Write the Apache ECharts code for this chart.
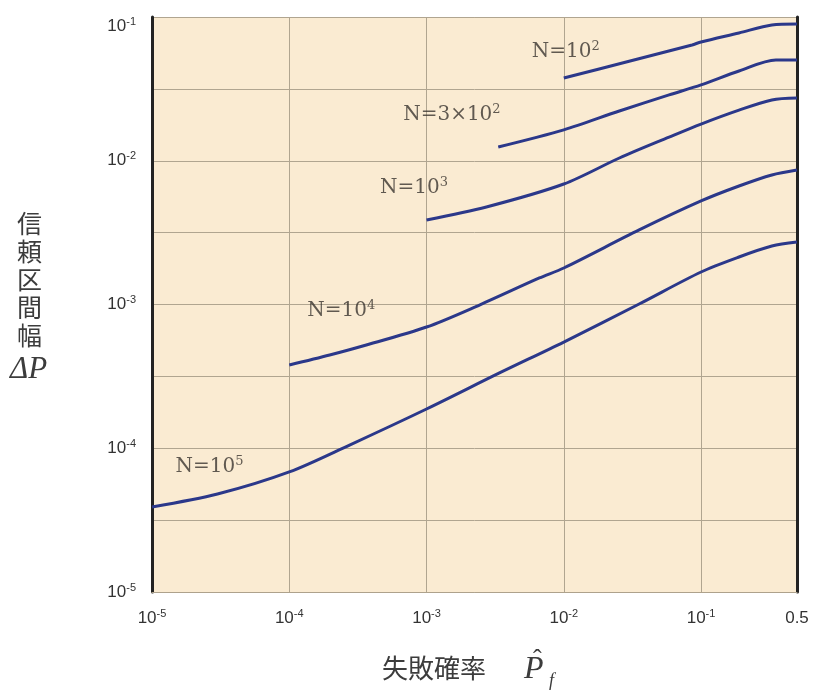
<!DOCTYPE html>
<html><head><meta charset="utf-8">
<script src="https://cdn.jsdelivr.net/npm/echarts@6/dist/echarts.min.js"></script>
<style>html,body{margin:0;padding:0;background:#fff}#c{width:813px;height:691px}</style>
</head><body><div id="c"></div>
<script>
// ---- data ----
const pf_N1e2 = [0.01, 0.0285, 0.086, 0.1, 0.189, 0.328, 0.5];
const dp_N1e2 = [0.0376, 0.0486, 0.0639, 0.067, 0.0774, 0.088, 0.0894];

const pf_N3e2 = [0.00333, 0.01, 0.0254, 0.0585, 0.1, 0.189, 0.351, 0.5];
const dp_N3e2 = [0.01246, 0.0164, 0.0222, 0.0287, 0.0337, 0.0421, 0.0502, 0.0502];

const pf_N1e3 = [0.001, 0.00273, 0.01, 0.0254, 0.0585, 0.1, 0.189, 0.328, 0.5];
const dp_N1e3 = [0.00387, 0.00477, 0.00689, 0.01045, 0.0146, 0.018, 0.0225, 0.0265, 0.0273];

const pf_N1e4 = [1e-4, 1.97e-4, 3.43e-4, 1e-3, 2.43e-3, 6.64e-3, 1e-2, 3.54e-2, 0.1, 0.189, 0.328, 0.5];
const dp_N1e4 = [3.79e-4, 4.45e-4, 5.14e-4, 6.97e-4, 9.92e-4, 1.529e-3, 1.795e-3, 3.30e-3, 5.25e-3, 6.67e-3, 7.96e-3, 8.62e-3];

const pf_N1e5 = [1e-5, 3e-5, 1e-4, 2.75e-4, 1e-3, 3.4e-3, 1e-2, 3.54e-2, 0.1, 0.189, 0.328, 0.5];
const dp_N1e5 = [3.9e-5, 4.8e-5, 6.84e-5, 1.053e-4, 1.875e-4, 3.34e-4, 5.48e-4, 1.008e-3, 1.683e-3, 2.14e-3, 2.55e-3, 2.72e-3];

const curveNames = ['N=10²', 'N=3×10²', 'N=10³', 'N=10⁴', 'N=10⁵'];
const curveLabels = ['{n|N=10}{s|2}', '{n|N=3×10}{s|2}', '{n|N=10}{s|3}', '{n|N=10}{s|4}', '{n|N=10}{s|5}'];
const labelPf = [5.8e-3, 6.7e-4, 4.55e-4, 1.34e-4, 1.47e-5];
const labelDp = [5.7e-2, 2.08e-2, 6.45e-3, 9.0e-4, 7.4e-5];

const xMin = 1e-5, xMax = 0.5;
const yMin = 1e-5, yMax = 1e-1;

// ---- chart ----
const pfs = [pf_N1e2, pf_N3e2, pf_N1e3, pf_N1e4, pf_N1e5];
const dps = [dp_N1e2, dp_N3e2, dp_N1e3, dp_N1e4, dp_N1e5];
const lineColor = '#2b388a';
const textColor = '#333';

function powLabel(v, top) {
  const l = Math.log10(v);
  const e = Math.round(l);
  if (Math.abs(l - e) > 0.01) return '{b|' + (+v.toPrecision(3)) + '}';
  if (top) return '{gap| }\n{b|10}{s|' + e + '}';
  return '{b|10}{s|' + e + '}';
}
const tickRich = {
  b: {fontFamily: 'Liberation Sans', fontSize: 17, color: textColor, lineHeight: 20},
  s: {fontFamily: 'Liberation Sans', fontSize: 11, color: textColor, lineHeight: 12, verticalAlign: 'top'},
  gap: {fontSize: 10, lineHeight: 18}
};

const series = pfs.map((pf, i) => ({
  name: curveNames[i],
  type: 'line',
  data: pf.map((x, j) => [x, dps[i][j]]),
  showSymbol: false,
  smooth: 0.3,
  lineStyle: {color: lineColor, width: 3},
  itemStyle: {color: lineColor},
  z: 3
}));
series.push({
  type: 'scatter',
  silent: true,
  symbolSize: 1,
  itemStyle: {color: 'rgba(0,0,0,0)'},
  data: labelPf.map((x, i) => ({value: [x, labelDp[i]], label: {formatter: curveLabels[i]}})),
  label: {
    show: true, position: 'right', distance: 0,
    rich: {
      n: {fontFamily: 'DejaVu Serif', fontSize: 20, color: '#3a3530', lineHeight: 24},
      s: {fontFamily: 'DejaVu Serif', fontSize: 13, color: '#3a3530', lineHeight: 14, verticalAlign: 'top'}
    }
  },
  z: 4
});

const chart = echarts.init(document.getElementById('c'), null, {renderer: 'canvas'});
chart.setOption({
  animation: false,
  backgroundColor: '#fff',
  grid: {left: 152, right: 16, top: 17, bottom: 99, show: true, backgroundColor: '#faebd2', borderWidth: 0},
  xAxis: {
    type: 'log', logBase: 10, min: xMin, max: xMax,
    axisLine: {show: true, lineStyle: {color: '#aea28c', width: 1}},
    axisTick: {show: false},
    axisLabel: {margin: 16, formatter: v => powLabel(v, false), rich: tickRich, showMaxLabel: true, showMinLabel: true},
    splitLine: {show: true, lineStyle: {color: '#b0a590', width: 1}}
  },
  yAxis: [{
    type: 'log', logBase: 10, min: yMin, max: yMax, position: 'left',
    axisLine: {show: true, onZero: false, lineStyle: {color: '#222', width: 3}},
    axisTick: {show: false},
    axisLabel: {margin: 16, formatter: v => powLabel(v, Math.abs(Math.log10(v) - Math.log10(yMax)) < 0.01), rich: tickRich},
    splitLine: {show: false}
  }, {
    type: 'log', logBase: Math.sqrt(10), min: yMin, max: yMax, position: 'right',
    axisLine: {show: true, onZero: false, lineStyle: {color: '#222', width: 3}},
    axisTick: {show: false},
    axisLabel: {show: false},
    splitLine: {show: true, lineStyle: {color: '#b0a590', width: 1}}
  }],
  series: series,
  graphic: [
    {type: 'text', left: 17, top: 209, style: {text: '信\n頼\n区\n間\n幅', fontFamily: 'Noto Sans CJK JP', fontSize: 25, lineHeight: 28, fill: '#3c3c3c'}},
    {type: 'text', left: 10, top: 354, style: {text: 'ΔP', fontFamily: 'Liberation Serif', fontStyle: 'italic', fontSize: 31, fill: '#3c3c3c'}},
    {type: 'text', left: 382, top: 655, style: {text: '失敗確率', fontFamily: 'Noto Sans CJK JP', fontSize: 26, fill: '#3c3c3c'}},
    {type: 'text', left: 524, top: 654, style: {text: 'P', fontFamily: 'Liberation Serif', fontStyle: 'italic', fontSize: 32, fill: '#3c3c3c'}},
    {type: 'text', left: 533, top: 647, style: {text: 'ˆ', fontFamily: 'Liberation Serif', fontSize: 26, fill: '#3c3c3c'}},
    {type: 'text', left: 549, top: 672, style: {text: 'f', fontFamily: 'Liberation Serif', fontStyle: 'italic', fontSize: 18, fill: '#3c3c3c'}}
  ]
});
</script>
</body></html>
